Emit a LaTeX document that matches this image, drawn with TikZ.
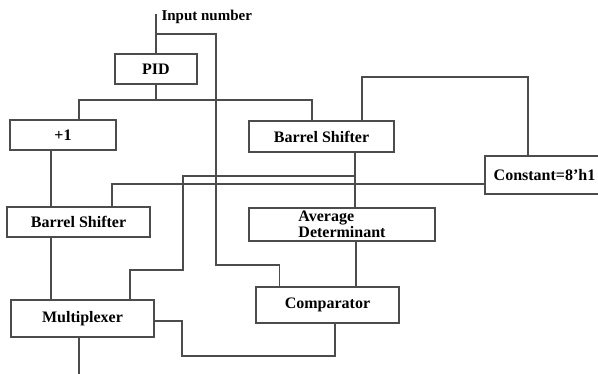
\documentclass[tikz,border=0pt]{standalone}
\usepackage{fontspec}
\setmainfont{Liberation Serif}
\usetikzlibrary{positioning}

\begin{document}
\begin{tikzpicture}[x=1pt,y=-1pt]
   \tikzset{BlockStyle/.style={draw=black!70,line width=1.1pt,inner sep=0pt,
      font=\fontsize{16}{14.5}\selectfont\bfseries}}
   \tikzset{WireStyle/.style={draw=black!70,line width=1.1pt}}
   \clip (0,0) rectangle (598,373);
   \node[anchor=west,font=\fontsize{15}{17}\selectfont\bfseries] (input) at (158,17) {Input number};
   \coordinate (in) at (156,14);
   \node[BlockStyle,minimum width=82pt,minimum height=30pt] (pid) at (156,69) {PID};
   \node[BlockStyle,minimum width=106pt,minimum height=30pt] (plusone) at (63,135) {+1};
   \node[BlockStyle,minimum width=145pt,minimum height=31pt] (bsright) at (321.5,136.5) {Barrel Shifter};
   \node[BlockStyle,minimum width=119pt,minimum height=38pt] (const) at (544.5,175) {Constant=8'h1};
   \node[BlockStyle,minimum width=143pt,minimum height=30pt] (bsleft) at (78.5,222) {Barrel Shifter};
   \node[BlockStyle,minimum width=186pt,minimum height=33pt,align=left] (avgdet) at (342,224.5) {Average\\Determinant};
   \node[BlockStyle,minimum width=143pt,minimum height=37pt] (mux) at (82.5,318.5) {Multiplexer};
   \node[BlockStyle,minimum width=143pt,minimum height=36pt] (comp) at (327.5,305) {Comparator};
   \coordinate (tap) at (156,34);
   \coordinate (split) at (156,100);
   \coordinate (inbend) at (216,265);
   \coordinate (topbend) at (362,77);
   \coordinate (avgtap) at (355,176);
   \coordinate (muxbend) at (183,270);
   \coordinate (compbend) at (182,356);
   \coordinate (out) at (79,376);
   \draw[WireStyle] (in) -- (pid.north);
   \draw[WireStyle] (tap) -| (inbend) -| ([xshift=24pt]comp.north west);
   \draw[WireStyle] (pid.south) -- (split);
   \draw[WireStyle] ([xshift=16pt]plusone.north) |- (split) -| ([xshift=-9.5pt]bsright.north);
   \draw[WireStyle] ([xshift=-12pt]plusone.south) -- ([xshift=-27.5pt]bsleft.north);
   \draw[WireStyle] ([xshift=40.5pt]bsright.north) -- (topbend) -| ([xshift=-16.5pt]const.north);
   \draw[WireStyle] ([yshift=-9pt]const.west) -| ([xshift=33.5pt]bsleft.north);
   \draw[WireStyle] ([xshift=33.5pt]bsright.south) -- ([xshift=13pt]avgdet.north);
   \draw[WireStyle] (avgtap) -| (muxbend) -| ([xshift=47.5pt]mux.north);
   \draw[WireStyle] ([xshift=14pt]avgdet.south) -- ([xshift=28.5pt]comp.north);
   \draw[WireStyle] ([xshift=-27.5pt]bsleft.south) -- ([xshift=-31.5pt]mux.north);
   \draw[WireStyle] ([yshift=-2.5pt]mux.east) -| (compbend) -| ([xshift=7.5pt]comp.south);
   \draw[WireStyle] ([xshift=-3.5pt]mux.south) -- (out);
\end{tikzpicture}
\end{document}
